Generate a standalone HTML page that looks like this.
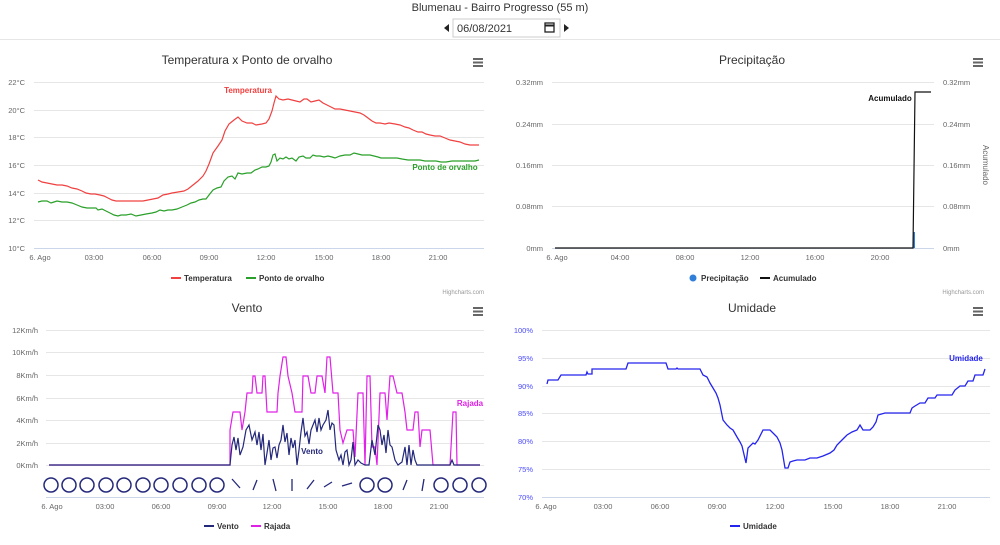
<!DOCTYPE html>
<html><head><meta charset="utf-8"><style>
body{margin:0;width:1000px;height:540px;background:#fff;font-family:"Liberation Sans",sans-serif;overflow:hidden}
svg text{font-family:"Liberation Sans",sans-serif}
</style></head><body>
<svg width="1000" height="540" viewBox="0 0 1000 540" xmlns="http://www.w3.org/2000/svg">
<text x="500" y="11" text-anchor="middle" font-size="11" fill="#333">Blumenau - Bairro Progresso (55 m)</text>
<polygon points="444,28 449,24 449,32" fill="#222"/>
<rect x="453" y="19" width="107" height="18" fill="#fff" stroke="#ccc"/>
<text x="457" y="32" font-size="11" fill="#333">06/08/2021</text>
<rect x="545" y="23" width="9" height="9" fill="none" stroke="#222" stroke-width="1.3"/>
<line x1="545" y1="25.5" x2="554" y2="25.5" stroke="#222" stroke-width="2"/>
<polygon points="564,24 569,28 564,32" fill="#222"/>
<line x1="0" y1="39.5" x2="1000" y2="39.5" stroke="#e6e6e6"/>

<g stroke="#666" stroke-width="2">
<path d="M473 59h10M473 62.5h10M473 66h10"/>
<path d="M973 59h10M973 62.5h10M973 66h10"/>
<path d="M473 308h10M473 311.5h10M473 315h10"/>
<path d="M973 308h10M973 311.5h10M973 315h10"/>
</g>

<!-- Chart 1 -->
<text x="247" y="64" text-anchor="middle" font-size="12" fill="#333">Temperatura x Ponto de orvalho</text>
<g stroke="#e6e6e6" stroke-width="1">
<path d="M34 82.5H484M34 110.5H484M34 137.5H484M34 165.5H484M34 193.5H484M34 220.5H484"/>
</g>
<line x1="34" y1="248.5" x2="484" y2="248.5" stroke="#ccd6eb"/>
<g font-size="7.5" fill="#666" text-anchor="end">
<text x="25" y="85">22°C</text><text x="25" y="113">20°C</text><text x="25" y="140">18°C</text><text x="25" y="168">16°C</text><text x="25" y="196">14°C</text><text x="25" y="223">12°C</text><text x="25" y="251">10°C</text>
</g>
<g font-size="7.5" fill="#666" text-anchor="middle">
<text x="40" y="260">6. Ago</text><text x="94" y="260">03:00</text><text x="152" y="260">06:00</text><text x="209" y="260">09:00</text><text x="266" y="260">12:00</text><text x="324" y="260">15:00</text><text x="381" y="260">18:00</text><text x="438" y="260">21:00</text>
</g>
<g fill="none" stroke-width="1.2">
<polyline stroke="#f04040" points="38,180 42,182 47,183 52,184 57,185 62,185 67,186 72,188 77,189 82,191 86,193 91,194 95,194 100,195 104,196 108,198 112,200 116,201 120,201 130,201 143,201 148,200 153,199 158,198 163,195 168,194 172,193 178,192 184,191 188,189 193,185 198,181 203,176 206,171 209,164 213,153 218,146 222,140 225,131 229,124 234,120 238,117 242,121 247,123 252,123 256,125 262,124 266,123 269,119 272,111 274,103 276,96 279,99 283,100 288,99 292,100 296,101 300,102 304,99 307,99 311,102 315,101 319,100 323,103 327,105 331,107 335,109 340,109 345,110 350,111 355,112 360,113 364,115 368,118 372,121 376,123 380,123 385,124 389,123 395,124 400,125 405,127 409,128 413,130 418,132 422,132 426,134 430,135 435,136 440,136 445,138 450,140 455,141 460,142 465,144 470,145 474,145 479,145"/>
<polyline stroke="#2aa02a" points="38,202 42,201 47,201 51,203 54,202 57,201 62,202 67,202 72,203 77,205 82,207 87,208 92,208 96,208 98,210 102,209 106,211 110,213 114,215 118,216 121,215 126,215 131,214 136,216 141,215 146,214 152,213 156,212 160,210 164,211 168,210 172,210 177,209 182,207 187,205 191,203 195,202 199,200 203,199 206,199 209,195 213,190 217,188 221,187 224,181 228,177 232,176 235,179 238,173 242,174 247,173 251,173 255,170 258,169 262,167 266,167 269,166 271,162 273,155 275,154 277,161 280,158 283,159 286,157 289,159 292,158 296,161 299,157 303,156 306,158 310,158 313,155 316,156 320,156 324,157 328,156 332,157 335,158 340,156 345,155 350,155 354,153 358,154 362,155 366,155 370,155 374,156 378,157 381,158 386,158 392,158 397,158 402,159 408,160 414,160 420,160 425,161 430,161 436,161 441,162 446,162 452,161 458,161 464,161 470,161 475,161 479,160"/>
</g>
<text x="248" y="93" text-anchor="middle" font-size="8" font-weight="bold" fill="#f04040">Temperatura</text>
<text x="445" y="170" text-anchor="middle" font-size="8" font-weight="bold" fill="#2aa02a">Ponto de orvalho</text>
<line x1="171" y1="278" x2="181" y2="278" stroke="#f04040" stroke-width="2"/>
<text x="184" y="281" font-size="8" font-weight="bold" fill="#333">Temperatura</text>
<line x1="246" y1="278" x2="256" y2="278" stroke="#2aa02a" stroke-width="2"/>
<text x="259" y="281" font-size="8" font-weight="bold" fill="#333">Ponto de orvalho</text>
<text x="484" y="294" text-anchor="end" font-size="6" fill="#999">Highcharts.com</text>

<!-- Chart 2 -->
<text x="752" y="64" text-anchor="middle" font-size="12" fill="#333">Precipitação</text>
<g stroke="#e6e6e6"><path d="M552 82.5H934M552 124.5H934M552 165.5H934M552 206.5H934"/></g>
<line x1="552" y1="248.5" x2="934" y2="248.5" stroke="#ccd6eb"/>
<g font-size="7.5" fill="#666" text-anchor="end">
<text x="543" y="85">0.32mm</text><text x="543" y="127">0.24mm</text><text x="543" y="168">0.16mm</text><text x="543" y="209">0.08mm</text><text x="543" y="251">0mm</text>
</g>
<g font-size="7.5" fill="#666">
<text x="943" y="85">0.32mm</text><text x="943" y="127">0.24mm</text><text x="943" y="168">0.16mm</text><text x="943" y="209">0.08mm</text><text x="943" y="251">0mm</text>
</g>
<text x="983" y="165" font-size="8" fill="#666" text-anchor="middle" transform="rotate(90 983 165)">Acumulado</text>
<g font-size="7.5" fill="#666" text-anchor="middle">
<text x="557" y="260">6. Ago</text><text x="620" y="260">04:00</text><text x="685" y="260">08:00</text><text x="750" y="260">12:00</text><text x="815" y="260">16:00</text><text x="880" y="260">20:00</text>
</g>
<rect x="913" y="232" width="2" height="16" fill="#2f7ed8"/>
<polyline fill="none" stroke="#111" stroke-width="1.2" points="555,248 913,248 915,92 931,92"/>
<text x="890" y="101" text-anchor="middle" font-size="8" font-weight="bold" fill="#111">Acumulado</text>
<circle cx="693" cy="278" r="3.5" fill="#2f7ed8"/>
<text x="701" y="281" font-size="8" font-weight="bold" fill="#333">Precipitação</text>
<line x1="760" y1="278" x2="770" y2="278" stroke="#111" stroke-width="2"/>
<text x="773" y="281" font-size="8" font-weight="bold" fill="#333">Acumulado</text>
<text x="984" y="294" text-anchor="end" font-size="6" fill="#999">Highcharts.com</text>

<!-- Chart 3 -->
<text x="247" y="312" text-anchor="middle" font-size="12" fill="#333">Vento</text>
<g stroke="#e6e6e6"><path d="M46 330.5H484M46 352.5H484M46 375.5H484M46 398.5H484M46 420.5H484M46 443.5H484"/></g>
<line x1="46" y1="465.5" x2="484" y2="465.5" stroke="#e6e6e6"/>
<line x1="46" y1="497.5" x2="484" y2="497.5" stroke="#ccd6eb"/>
<g font-size="7.5" fill="#666" text-anchor="end">
<text x="38" y="333">12Km/h</text><text x="38" y="355">10Km/h</text><text x="38" y="378">8Km/h</text><text x="38" y="401">6Km/h</text><text x="38" y="423">4Km/h</text><text x="38" y="446">2Km/h</text><text x="38" y="468">0Km/h</text>
</g>
<g font-size="7.5" fill="#666" text-anchor="middle">
<text x="52" y="509">6. Ago</text><text x="105" y="509">03:00</text><text x="161" y="509">06:00</text><text x="217" y="509">09:00</text><text x="272" y="509">12:00</text><text x="328" y="509">15:00</text><text x="383" y="509">18:00</text><text x="439" y="509">21:00</text>
</g>
<g fill="none" stroke-width="1.2">
<polyline stroke="#e020e8" points="49,465 230,465 230,430 233,412 240,412 242,430 245,412 247,393 252,393 253,376 255,376 257,393 262,393 263,376 265,376 267,412 277,412 278,393 280,376 283,357 286,357 288,376 292,393 295,412 302,412 303,376 308,376 311,393 315,393 317,376 322,376 325,393 327,357 330,357 333,393 338,393 340,430 343,443 347,430 353,430 355,457 358,393 363,393 365,465 367,376 370,376 372,447 375,447 377,465 380,393 385,393 387,420 390,376 393,376 397,393 402,393 405,412 407,430 413,430 415,412 418,412 420,447 422,430 430,430 433,465 450,465 453,412 456,412 457,465 480,465"/>
<polyline stroke="#24287a" points="49,465 230,465 232,445 234,437 236,450 238,438 240,455 243,447 246,430 249,425 252,440 255,432 257,445 259,432 261,450 263,434 265,465 267,453 269,440 271,460 273,448 275,447 277,458 279,445 281,440 283,425 285,442 287,433 289,455 291,438 293,448 295,440 297,465 299,450 301,432 303,418 305,436 307,432 309,444 311,430 313,425 315,420 317,432 319,418 321,430 323,425 326,420 328,410 330,430 332,423 334,425 336,450 339,460 341,455 343,465 345,452 347,450 349,465 351,460 353,442 355,465 358,460 361,463 365,465 369,465 372,440 375,455 378,425 380,430 382,445 384,435 386,453 388,430 390,445 392,447 395,460 398,465 402,462 405,447 407,465 409,445 411,465 413,450 415,460 417,465 450,465 452,460 454,465 480,465"/>
</g>
<text x="312" y="454" text-anchor="middle" font-size="8" font-weight="bold" fill="#24287a">Vento</text>
<text x="470" y="406" text-anchor="middle" font-size="8" font-weight="bold" fill="#e020e8">Rajada</text>
<g fill="none" stroke="#24287a" stroke-width="1.5">
<circle cx="51" cy="485" r="7"/><circle cx="69" cy="485" r="7"/><circle cx="87" cy="485" r="7"/><circle cx="106" cy="485" r="7"/><circle cx="124" cy="485" r="7"/><circle cx="143" cy="485" r="7"/><circle cx="161" cy="485" r="7"/><circle cx="180" cy="485" r="7"/><circle cx="199" cy="485" r="7"/><circle cx="217" cy="485" r="7"/>
<circle cx="367" cy="485" r="7"/><circle cx="385" cy="485" r="7"/><circle cx="441" cy="485" r="7"/><circle cx="460" cy="485" r="7"/><circle cx="479" cy="485" r="7"/>
</g>
<g stroke="#24287a" stroke-width="1.3" fill="#24287a">
<path d="M232 479L240 488"/><path d="M257 480L253 490"/><path d="M273 479L276 491"/><path d="M292 479L292 491"/><path d="M314 480L307 489"/><path d="M332 482L324 487"/><path d="M352 483L342 486"/><path d="M407 480L403 490"/><path d="M424 479L422 491"/>
</g>
<line x1="204" y1="526" x2="214" y2="526" stroke="#24287a" stroke-width="2"/>
<text x="217" y="529" font-size="8" font-weight="bold" fill="#333">Vento</text>
<line x1="251" y1="526" x2="261" y2="526" stroke="#e020e8" stroke-width="2"/>
<text x="264" y="529" font-size="8" font-weight="bold" fill="#333">Rajada</text>

<!-- Chart 4 -->
<text x="752" y="312" text-anchor="middle" font-size="12" fill="#333">Umidade</text>
<g stroke="#e6e6e6"><path d="M542 330.5H990M542 358.5H990M542 386.5H990M542 413.5H990M542 441.5H990M542 469.5H990"/></g>
<line x1="542" y1="497.5" x2="990" y2="497.5" stroke="#ccd6eb"/>
<g font-size="7.5" fill="#4a4aff" text-anchor="end">
<text x="533" y="333">100%</text><text x="533" y="361">95%</text><text x="533" y="389">90%</text><text x="533" y="416">85%</text><text x="533" y="444">80%</text><text x="533" y="472">75%</text><text x="533" y="500">70%</text>
</g>
<g font-size="7.5" fill="#666" text-anchor="middle">
<text x="546" y="509">6. Ago</text><text x="603" y="509">03:00</text><text x="660" y="509">06:00</text><text x="717" y="509">09:00</text><text x="775" y="509">12:00</text><text x="833" y="509">15:00</text><text x="890" y="509">18:00</text><text x="947" y="509">21:00</text>
</g>
<polyline fill="none" stroke="#2424ee" stroke-width="1.3" points="547,384 548,380 558,380 561,375 586,375 587,372 588,374 592,374 592,369 626,369 628,363 666,363 668,369 676,369 677,368 678,369 700,369 703,375 707,377 710,383 713,388 716,393 718,398 720,405 723,420 727,425 730,428 733,430 737,437 740,442 742,446 746,463 748,448 753,443 755,444 758,440 763,430 770,430 774,434 777,437 780,443 782,450 785,468 788,468 790,462 793,461 797,460 800,460 805,460 810,458 817,458 823,456 830,453 834,450 837,445 840,442 844,438 847,435 852,432 857,430 860,425 863,430 870,430 873,427 876,422 878,415 885,413 910,413 912,408 915,406 920,403 925,403 928,398 935,398 937,395 952,395 955,390 960,386 965,386 968,381 973,381 975,375 983,375 985,369"/>
<text x="966" y="361" text-anchor="middle" font-size="8" font-weight="bold" fill="#2424ee">Umidade</text>
<line x1="730" y1="526" x2="740" y2="526" stroke="#2424ee" stroke-width="2"/>
<text x="743" y="529" font-size="8" font-weight="bold" fill="#333">Umidade</text>
</svg>
</body></html>
